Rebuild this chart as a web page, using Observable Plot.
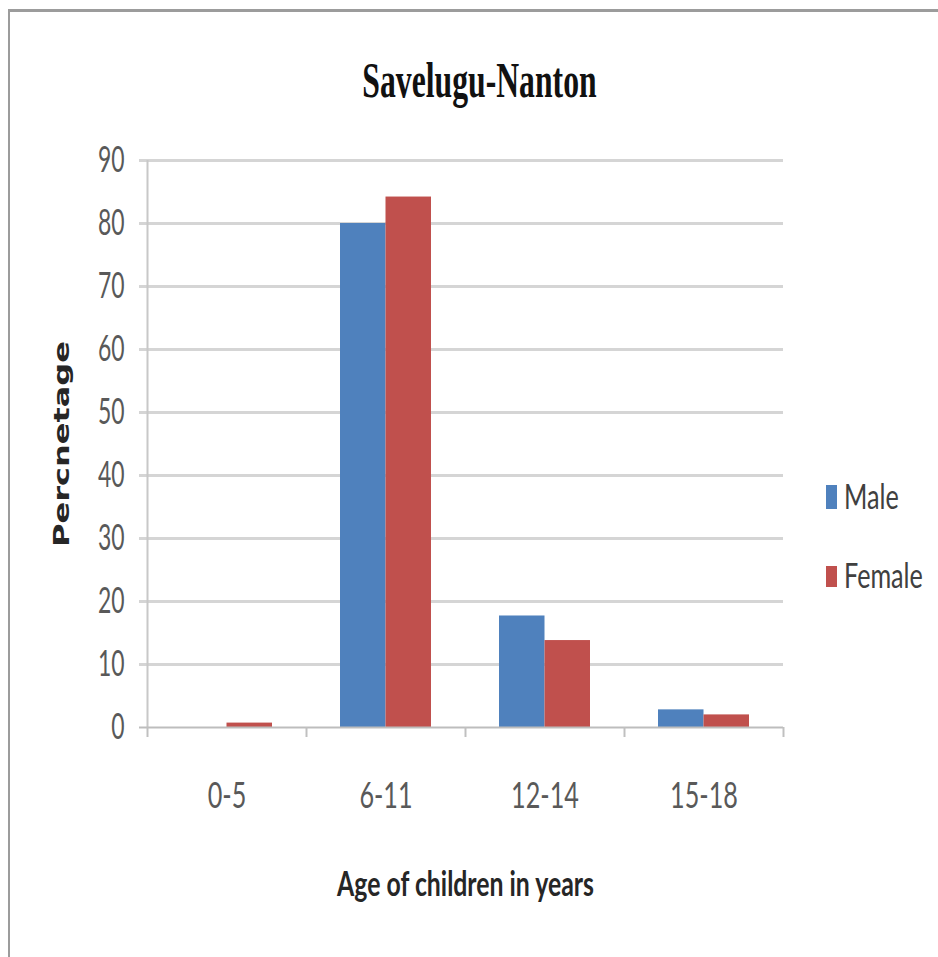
<!DOCTYPE html>
<html>
<head>
<meta charset="utf-8">
<script src="https://cdn.jsdelivr.net/npm/d3@7"></script>
<script src="https://cdn.jsdelivr.net/npm/@observablehq/plot@0.6"></script>
<style>
html, body { margin: 0; padding: 0; background: #fff; overflow: hidden; }
#wrap { position: relative; width: 938px; height: 957px; overflow: hidden; }
#border { position: absolute; left: 8px; top: 9px; width: 1000px; height: 1000px;
  border-left: 2px solid #9c9c9c; border-top: 3px solid #9c9c9c; pointer-events: none; }
.leg { position: absolute; left: 826px; height: 24px; }
.sw { position: absolute; left: 0; width: 11px; }
.lt { position: absolute; left: 18px; font-family: Lato, "Open Sans", sans-serif;
  font-size: 34px; line-height: 36px; color: #404040; white-space: nowrap;
  transform: scaleX(0.74); transform-origin: left center; }
</style>
</head>
<body>
<div id="wrap"><div id="border"></div></div>
<script>
const categories = ["0-5", "6-11", "12-14", "15-18"];
const seriesNames = ["Male", "Female"];
const maleValues = [0, 80, 17.7, 2.8];
const femaleValues = [0.7, 84.2, 13.8, 2.0];
const yTicks = [0, 10, 20, 30, 40, 50, 60, 70, 80, 90];
const titleText = "Savelugu-Nanton";
const xLabel = "Age of children in years";
const yLabel = "Percnetage";
const seriesColors = ["#4f81bd", "#c0504d"];

const rows = categories.flatMap((c, i) => [
  {category: c, series: seriesNames[0], value: maleValues[i]},
  {category: c, series: seriesNames[1], value: femaleValues[i]}
]);

const W = 938, H = 957, ML = 147, MR = 155, MT = 160, MB = 230;
const step = (W - ML - MR) / categories.length;
const barW = 45.5;
const outer = (step - 2 * barW) / 2;
const sans = "Lato, 'Open Sans', sans-serif";

const chart = Plot.plot({
  width: W, height: H,
  marginLeft: ML, marginRight: MR, marginTop: MT, marginBottom: MB,
  x: {domain: categories, padding: 0, axis: null},
  y: {domain: [0, 90], axis: null},
  color: {domain: seriesNames, range: seriesColors},
  style: {background: "transparent", overflow: "visible"},
  marks: [
    Plot.ruleY(yTicks.filter(d => d > 0), {y: d => d, stroke: "#d5d5d5", strokeWidth: 3, insetLeft: -8}),
    Plot.ruleX([categories[0]], {x: d => d, dx: -step / 2, stroke: "#c8c8c8", strokeWidth: 2}),
    Plot.barY(rows.filter(d => d.series === "Male"), {x: "category", y: "value", fill: "series", insetLeft: outer, insetRight: step - outer - barW}),
    Plot.barY(rows.filter(d => d.series === "Female"), {x: "category", y: "value", fill: "series", insetLeft: outer + barW, insetRight: outer}),
    Plot.ruleY([0], {y: d => d, stroke: "#bdbdbd", strokeWidth: 2, insetLeft: -8}),
    Plot.axisX({tickSize: 10, tickFormat: () => "", label: null, dx: -step / 2, stroke: "#c0c0c0", strokeWidth: 2}),
    Plot.axisX({ticks: [categories[categories.length - 1]], tickSize: 10, tickFormat: () => "", label: null, dx: step / 2, stroke: "#c0c0c0", strokeWidth: 2}),
    Plot.text(categories, {x: d => d, frameAnchor: "bottom", lineAnchor: "middle", dy: 69, text: d => d, fontFamily: sans, fontSize: 36, fill: "#595959"}),
    Plot.text(yTicks, {y: d => d, frameAnchor: "left", lineAnchor: "middle", dx: -23, textAnchor: "end", text: d => String(d), fontFamily: sans, fontSize: 37, fill: "#595959"}),
    Plot.text([titleText], {frameAnchor: "top", lineAnchor: "middle", textAnchor: "middle", dx: 14, dy: -80, text: d => d, fontFamily: "'Liberation Serif', serif", fontWeight: "bold", fontSize: 50, fill: "#111"}),
    Plot.text([xLabel], {frameAnchor: "bottom", lineAnchor: "middle", textAnchor: "middle", dy: 158, text: d => d, fontFamily: sans, fontWeight: "bold", fontSize: 34, fill: "#262626"}),
    Plot.text([yLabel], {frameAnchor: "left", lineAnchor: "middle", textAnchor: "middle", dx: -85, rotate: -90, text: d => d, fontFamily: "'DejaVu Sans', sans-serif", fontWeight: "bold", fontSize: 32, fill: "#262626"})
  ]
});

document.getElementById("wrap").appendChild(chart);

// squeeze text horizontally, like the reference picture
const squeeze = new Map([[titleText, 0.634], [xLabel, 0.73]]);
chart.querySelectorAll("text").forEach(t => {
  const content = t.textContent;
  let sc;
  if (content === yLabel) sc = " scale(1,0.66)";
  else if (squeeze.has(content)) sc = " scale(" + squeeze.get(content) + ",1)";
  else if (yTicks.map(String).includes(content)) sc = " scale(0.62,1)";
  else sc = " scale(0.7,1)";
  const tr = t.getAttribute("transform") || "";
  const xa = t.getAttribute("x");
  if (xa !== null && content !== yLabel) {
    const xv = parseFloat(xa);
    t.setAttribute("x", 0);
    t.setAttribute("transform", tr + " translate(" + xv + ",0)" + sc);
  } else {
    t.setAttribute("transform", tr + sc);
  }
});

// legend
const wrap = document.getElementById("wrap");
[{name: seriesNames[0], cy: 497, h: 24}, {name: seriesNames[1], cy: 576, h: 21}].forEach((d, i) => {
  const item = document.createElement("div");
  item.className = "leg";
  item.style.top = d.cy + "px";
  item.innerHTML = `<div class="sw" style="background:${seriesColors[i]};top:${-d.h / 2}px;height:${d.h}px"></div><div class="lt" style="top:-19px">${d.name}</div>`;
  wrap.appendChild(item);
});
wrap.appendChild(document.getElementById("border"));
</script>
</body>
</html>
